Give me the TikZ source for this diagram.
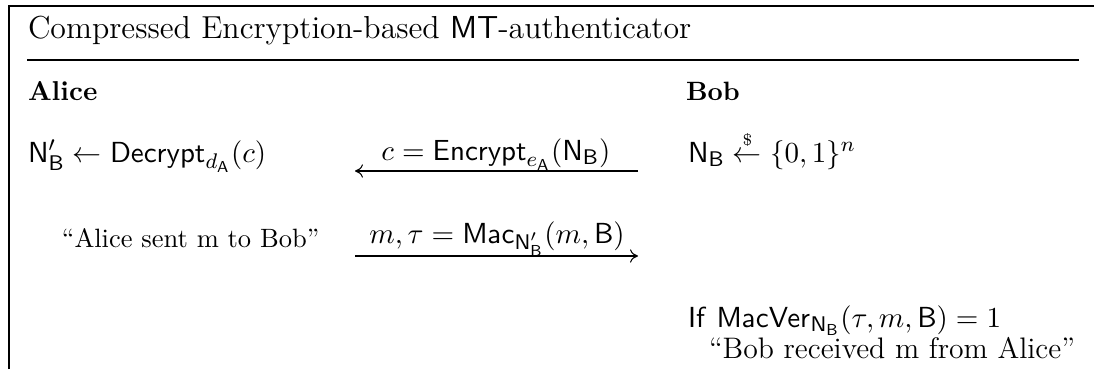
\documentclass[tikz,border=0pt]{standalone}
\usepackage{amsmath,amssymb}
\usetikzlibrary{arrows.meta}
\begin{document}
\begin{tikzpicture}[x=0.3774pt,y=-0.3774pt,
  txt/.style={inner sep=0pt,outer sep=0pt,anchor=base west},
  lbl/.style={inner sep=0pt,outer sep=0pt,anchor=base},
  big/.style={font=\fontsize{10.95}{13.6}\selectfont},
  msg/.style={line width=0.4pt,-{To[length=3pt,width=5pt]}},
  rule/.style={line width=0.5pt}]
\useasboundingbox (0,0) rectangle (1094,369);
\draw[rule] (9,369) -- (9,6) -- (1094,6);
\node[txt,font=\fontsize{12}{14}\selectfont] (title) at (28,38) {Compressed Encryption-based \textsf{MT}-authenticator};
\draw[rule] (27,60) -- (1079,60);
\node[txt,font=\fontsize{10.3}{12}\selectfont] (alice) at (28,100) {\textbf{Alice}};
\node[txt] (bob) at (686,100) {\textbf{Bob}};
% row 1
\node[txt,big] (dec) at (28,162) {$\mathsf{N}'_\mathsf{B} \gets \mathsf{Decrypt}_{d_\mathsf{A}}(c)$};
\node[txt,big] (samp) at (688,162) {$\mathsf{N_B} \stackrel{\scriptscriptstyle\$}{\gets} \{0,1\}^n$};
\coordinate (a1s) at (638,171);
\coordinate (a1e) at (355,171);
\draw[msg] (a1s) -- (a1e);
\node[lbl,big] (enc) at (496,160) {$c = \mathsf{Encrypt}_{e_\mathsf{A}}(\mathsf{N_B})$};
% row 2
\node[txt] (sent) at (62,247) {``Alice sent m to Bob''};
\coordinate (a2s) at (355,256);
\coordinate (a2e) at (638,256);
\draw[msg] (a2s) -- (a2e);
\node[lbl,big] (mac) at (497,243) {$m, \tau = \mathsf{Mac}_{\mathsf{N}'_\mathsf{B}}(m, \mathsf{B})$};
% row 3
\node[txt,big] (ver) at (688,327) {$\mathsf{If}\ \mathsf{MacVer}_{\mathsf{N_B}}(\tau, m, \mathsf{B}) = 1$};
\node[txt,font=\fontsize{11.2}{13.6}\selectfont] (recv) at (709,358) {``Bob received m from Alice''};
\end{tikzpicture}
\end{document}
